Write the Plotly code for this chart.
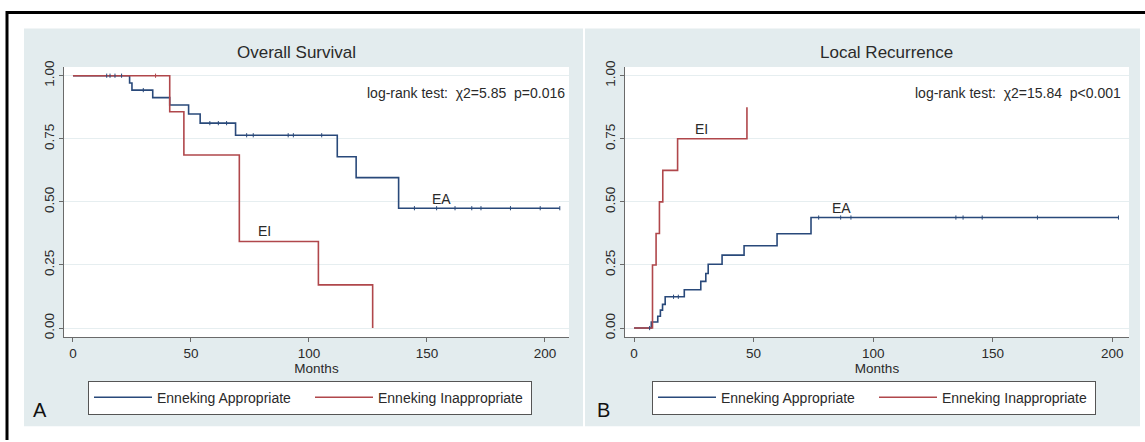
import plotly.graph_objects as go

# ---------------- data ----------------
series_names = ["Enneking Appropriate", "Enneking Inappropriate"]
panel_titles = ["Overall Survival", "Local Recurrence"]
panel_letters = ["A", "B"]
logrank_texts = ["log-rank test:  χ2=5.85  p=0.016", "log-rank test:  χ2=15.84  p<0.001"]
x_ticks = [0, 50, 100, 150, 200]
y_ticks = [0.0, 0.25, 0.5, 0.75, 1.0]
y_tick_labels = ["0.00", "0.25", "0.50", "0.75", "1.00"]

# Overall survival, Enneking appropriate (EA)
os_ea_time = [0, 24.0, 25.0, 33.8, 41.0, 49.0, 53.9, 68.9, 112.0, 120.0, 138.0]
os_ea_surv = [1.0, 0.971, 0.943, 0.913, 0.884, 0.848, 0.812, 0.764, 0.679, 0.596, 0.475]
os_ea_end = 206.3
os_ea_censor = [14.3, 15.7, 17.8, 20.6, 29.8, 58.0, 61.6, 65.1, 73.6, 76.4, 91.2, 93.4,
                105.4, 144.7, 154.1, 161.9, 169.0, 172.9, 185.4, 198.0, 206.3]

# Overall survival, Enneking inappropriate (EI)
os_ei_time = [0, 41.0, 47.0, 70.5, 104.0, 127.0]
os_ei_surv = [1.0, 0.857, 0.686, 0.343, 0.171, 0.0]
os_ei_censor = [35.0]

# Local recurrence (cumulative failure), EA
lr_ea_time = [0, 7.2, 9.9, 11.0, 11.9, 13.0, 21.0, 27.9, 30.0, 31.0, 36.8, 46.0, 59.8, 74.0]
lr_ea_fail = [0, 0.024, 0.047, 0.071, 0.094, 0.124, 0.152, 0.185, 0.216, 0.253, 0.289, 0.326, 0.374, 0.438]
lr_ea_end = 202.6
lr_ea_censor = [6.5, 16.5, 18.5, 77.2, 86.4, 90.7, 134.6, 137.6, 145.6, 168.7, 202.6]

# Local recurrence, EI
lr_ei_time = [0, 7.7, 9.2, 10.6, 12.0, 18.2, 47.2]
lr_ei_fail = [0, 0.25, 0.375, 0.5, 0.625, 0.75, 0.875]

# curve labels: (text, x, y)
os_labels = [("EA", 156.0, 0.51), ("EI", 81.0, 0.385)]
lr_labels = [("EA", 86.6, 0.477), ("EI", 28.4, 0.79)]

# ---------------- style ----------------
W, H = 1145, 442
BLUE = "#29497a"
RED = "#b0474b"
PANEL_BG = "#e3ecee"
GRID = "#e6eef0"
AXIS = "#6a6a6a"
FONT = "Liberation Sans, Arial, sans-serif"
TXT = "#2a2a2a"


def px(x):
    return x / W


def py(y):
    return 1 - y / H


def step_at(times, vals, t):
    v = vals[0]
    for ti, vi in zip(times, vals):
        if ti <= t:
            v = vi
    return v


fig = go.Figure()

censor_marker = lambda c: dict(symbol="line-ns", size=3, line=dict(color=c, width=1))

# --- OS panel traces
fig.add_trace(go.Scatter(x=os_ea_time + [os_ea_end], y=os_ea_surv + [os_ea_surv[-1]],
                         mode="lines", line=dict(color=BLUE, width=1.6, shape="hv"),
                         name=series_names[0], xaxis="x", yaxis="y", legend="legend"))
fig.add_trace(go.Scatter(x=os_ei_time, y=os_ei_surv,
                         mode="lines", line=dict(color=RED, width=1.6, shape="hv"),
                         name=series_names[1], xaxis="x", yaxis="y", legend="legend"))
fig.add_trace(go.Scatter(x=os_ea_censor, y=[step_at(os_ea_time, os_ea_surv, t) for t in os_ea_censor],
                         mode="markers", marker=censor_marker(BLUE),
                         showlegend=False, xaxis="x", yaxis="y", hoverinfo="skip"))
fig.add_trace(go.Scatter(x=os_ei_censor, y=[step_at(os_ei_time, os_ei_surv, t) for t in os_ei_censor],
                         mode="markers", marker=censor_marker(RED),
                         showlegend=False, xaxis="x", yaxis="y", hoverinfo="skip"))

# --- LR panel traces
fig.add_trace(go.Scatter(x=lr_ea_time + [lr_ea_end], y=lr_ea_fail + [lr_ea_fail[-1]],
                         mode="lines", line=dict(color=BLUE, width=1.6, shape="hv"),
                         name=series_names[0], xaxis="x2", yaxis="y2", legend="legend2"))
fig.add_trace(go.Scatter(x=lr_ei_time, y=lr_ei_fail,
                         mode="lines", line=dict(color=RED, width=1.6, shape="hv"),
                         name=series_names[1], xaxis="x2", yaxis="y2", legend="legend2"))
fig.add_trace(go.Scatter(x=lr_ea_censor, y=[step_at(lr_ea_time, lr_ea_fail, t) for t in lr_ea_censor],
                         mode="markers", marker=censor_marker(BLUE),
                         showlegend=False, xaxis="x2", yaxis="y2", hoverinfo="skip"))

# --- axes
ydom = [py(337), py(62)]
xcommon = dict(tickvals=x_ticks, ticks="outside", ticklen=4, tickcolor=AXIS, showline=True,
               linecolor=AXIS, linewidth=1.2, showgrid=False, zeroline=False,
               tickfont=dict(family=FONT, size=13.5, color=TXT),
               title=dict(text="Months", font=dict(family=FONT, size=13.5, color=TXT), standoff=1))
ycommon = dict(range=[-0.035, 1.035], tickvals=y_ticks, ticktext=y_tick_labels, tickangle=-90,
               ticks="outside", ticklen=4, tickcolor=AXIS, showline=True, linecolor=AXIS,
               linewidth=1.2, showgrid=True, gridcolor=GRID, gridwidth=1, zeroline=False,
               tickfont=dict(family=FONT, size=13.5, color=TXT), domain=ydom)

fig.update_layout(
    xaxis=dict(domain=[px(64), px(569)], range=[-3.8, 210.2], anchor="y", **xcommon),
    yaxis=dict(anchor="x", **ycommon),
    xaxis2=dict(domain=[px(625), px(1129)], range=[-3.8, 207.0], anchor="y2", **xcommon),
    yaxis2=dict(anchor="x2", **ycommon),
)

# --- legends
legcommon = dict(orientation="h", bgcolor="white", bordercolor="#555555", borderwidth=1,
                 font=dict(family=FONT, size=14, color=TXT), xanchor="left", yanchor="top",
                 entrywidth=148, itemwidth=58, tracegroupgap=0)
fig.update_layout(
    legend=dict(x=px(88), y=py(381.5), **legcommon),
    legend2=dict(x=px(652), y=py(381.5), **legcommon),
)

# --- background shapes
shapes = [
    dict(type="rect", xref="paper", yref="paper", x0=px(24), x1=px(583), y0=py(428), y1=py(23),
         fillcolor=PANEL_BG, line=dict(width=0), layer="below"),
    dict(type="rect", xref="paper", yref="paper", x0=px(585), x1=px(1140), y0=py(428), y1=py(23),
         fillcolor=PANEL_BG, line=dict(width=0), layer="below"),
    dict(type="rect", xref="paper", yref="paper", x0=px(64), x1=px(569), y0=py(337), y1=py(62),
         fillcolor="white", line=dict(width=0), layer="below"),
    dict(type="rect", xref="paper", yref="paper", x0=px(625), x1=px(1129), y0=py(337), y1=py(62),
         fillcolor="white", line=dict(width=0), layer="below"),
    dict(type="line", xref="paper", yref="paper", x0=px(7), x1=px(7), y0=0, y1=py(5),
         line=dict(color="black", width=3)),
    dict(type="line", xref="paper", yref="paper", x0=px(6), x1=1, y0=py(6.5), y1=py(6.5),
         line=dict(color="black", width=3)),
]
fig.update_layout(shapes=shapes)

# --- annotations
ann = []
title_x = [296, 886]
for t, x in zip(panel_titles, title_x):
    ann.append(dict(text=t, x=px(x), y=py(47), xref="paper", yref="paper", showarrow=False,
                    xanchor="center", yanchor="middle", font=dict(family=FONT, size=17, color=TXT)))
for t, x in zip(panel_letters, [40, 603]):
    ann.append(dict(text=t, x=px(x), y=py(411), xref="paper", yref="paper", showarrow=False,
                    xanchor="center", yanchor="middle", font=dict(family=FONT, size=20, color="#111111")))
for t, x in zip(logrank_texts, [567, 1123]):
    ann.append(dict(text=t, x=px(x), y=py(89), xref="paper", yref="paper", showarrow=False,
                    xanchor="right", yanchor="middle", font=dict(family=FONT, size=14, color=TXT)))
for (t, xv, yv) in os_labels:
    ann.append(dict(text=t, x=xv, y=yv, xref="x", yref="y", showarrow=False,
                    font=dict(family=FONT, size=14, color=TXT)))
for (t, xv, yv) in lr_labels:
    ann.append(dict(text=t, x=xv, y=yv, xref="x2", yref="y2", showarrow=False,
                    font=dict(family=FONT, size=14, color=TXT)))

fig.update_layout(
    annotations=ann,
    width=W, height=H, margin=dict(l=0, r=0, t=0, b=0),
    paper_bgcolor="white", plot_bgcolor="white",
    font=dict(family=FONT, color=TXT),
    hovermode=False,
)

fig.write_html("out.html", include_plotlyjs=True, config=dict(displayModeBar=False))
